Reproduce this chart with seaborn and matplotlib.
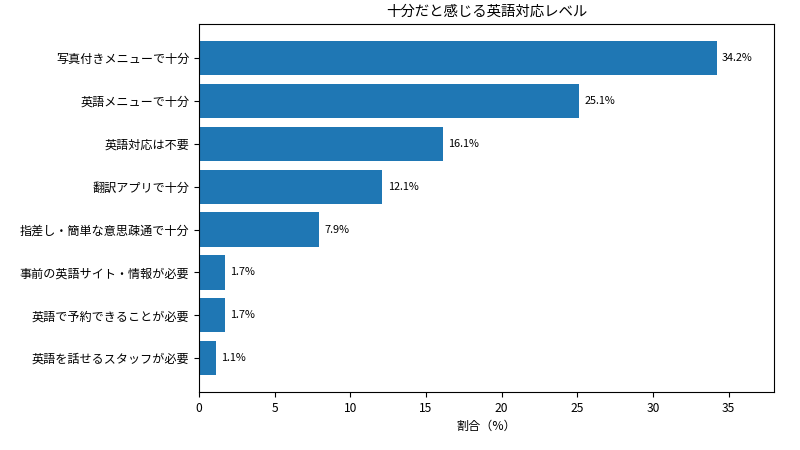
import matplotlib
matplotlib.use('Agg')
import matplotlib.pyplot as plt
import seaborn as sns
import pandas as pd

plt.rcParams['font.family'] = ['Noto Sans CJK JP', 'DejaVu Sans']

# データ
categories = ['写真付きメニューで十分', '英語メニューで十分', '英語対応は不要', '翻訳アプリで十分',
              '指差し・簡単な意思疎通で十分', '事前の英語サイト・情報が必要',
              '英語で予約できることが必要', '英語を話せるスタッフが必要']
values = [34.2, 25.1, 16.1, 12.1, 7.9, 1.7, 1.7, 1.1]

df = pd.DataFrame({'category': categories, 'value': values})

fig, ax = plt.subplots(figsize=(8, 4.5), dpi=100)
fig.subplots_adjust(left=0.249, right=0.9675, top=0.9456, bottom=0.129)

sns.barplot(data=df, x='value', y='category', orient='h', color='#1f77b4',
            saturation=1, width=0.8, ax=ax)

ax.bar_label(ax.containers[0], labels=[f'{v}%' for v in values], padding=4, fontsize=7.8)

ax.set_xlim(0, 38.0)
ax.set_ylim(len(values) - 1 + 0.79, -0.79)
ax.set_title('十分だと感じる英語対応レベル', fontsize=10.4)
ax.set_xlabel('割合（%）', fontsize=8.7)
ax.set_ylabel('')
ax.tick_params(labelsize=8.7)

fig.savefig('out.png', dpi=100)
